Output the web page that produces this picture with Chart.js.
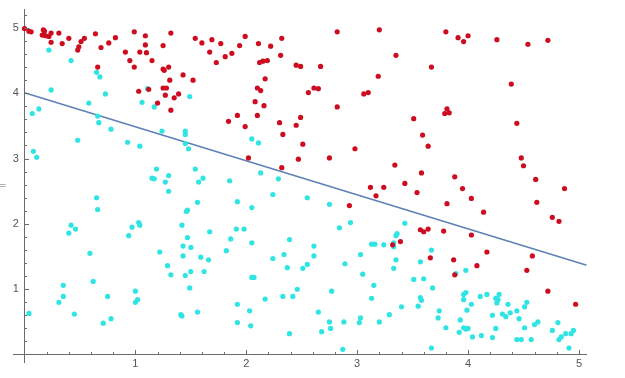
<!DOCTYPE html>
<html>
<head>
<meta charset="utf-8">
<script src="https://cdn.jsdelivr.net/npm/chart.js@4.4.1/dist/chart.umd.min.js"></script>
<style>
    html, body { margin: 0; padding: 0; background: #fff; }
    #wrap { width: 625px; height: 378px; }
</style>
</head>
<body>
<div id="wrap"><canvas id="scatterChart" width="625" height="378"></canvas></div>
<script>
// Red points (above the line)
const redX = [0.00, 0.04, 0.06, 0.17, 0.18, 0.16, 0.19, 0.22, 0.24, 0.24, 0.31, 0.34, 0.40, 0.48, 0.49, 0.51, 0.54, 0.64, 0.66, 0.69,
    0.76, 0.82, 0.91, 0.95, 0.99, 0.99, 1.04, 1.03, 1.09, 1.09, 1.10, 1.12, 1.15, 1.20, 1.25, 1.25, 1.26, 1.30, 1.31, 1.25,
    1.28, 1.27, 1.32, 1.32, 1.35, 1.39, 1.43, 1.52, 1.54, 1.60, 1.67, 1.69, 1.77, 1.73, 1.81, 1.87, 1.94, 1.99, 2.11, 2.22,
    2.32, 2.31, 2.12, 2.15, 2.19, 2.17, 2.10, 2.13, 2.08, 2.16, 1.92, 1.84, 1.99, 2.10, 2.30, 2.49, 2.45, 2.33, 2.51, 2.45,
    2.49, 2.67, 2.56, 2.61, 2.65, 2.82, 2.82, 3.20, 3.35, 3.19, 3.06, 3.10, 2.98, 2.75, 2.47, 2.02, 2.32, 3.34, 3.12, 3.24,
    3.43, 3.80, 3.91, 3.96, 4.00, 4.26, 4.54, 4.72, 3.67, 4.39, 3.81, 3.79, 3.83, 3.51, 4.44, 3.59, 3.64, 4.48, 4.50, 3.58,
    3.88, 4.61, 3.54, 3.95, 4.03, 4.87, 3.81, 4.14, 4.62, 4.76, 4.82, 3.57, 3.60, 3.64, 3.78, 4.03, 3.39, 3.32, 4.17, 3.66,
    3.87, 4.08, 4.58, 4.53, 3.88, 4.72, 4.97, 3.17, 2.93];
const redY = [4.99, 4.95, 4.94, 4.97, 4.95, 4.89, 4.88, 4.87, 4.92, 4.78, 4.92, 4.76, 4.84, 4.66, 4.71, 4.79, 4.84, 4.91, 4.40, 4.70,
    4.77, 4.85, 4.63, 4.50, 4.94, 4.40, 4.63, 4.03, 4.88, 4.74, 4.62, 4.06, 4.50, 3.85, 4.73, 4.37, 4.35, 4.40, 4.20, 4.08,
    4.08, 3.97, 4.92, 3.74, 3.93, 3.99, 4.28, 4.20, 4.84, 4.77, 4.63, 4.82, 4.76, 4.47, 4.56, 4.61, 4.73, 4.87, 4.76, 4.72,
    4.84, 4.58, 4.47, 4.49, 4.50, 4.22, 4.08, 4.04, 3.87, 3.81, 3.66, 3.57, 3.49, 3.66, 3.55, 3.63, 3.51, 3.37, 3.22, 4.43,
    4.41, 4.41, 4.01, 4.08, 4.07, 4.94, 3.79, 4.97, 4.58, 4.26, 3.99, 4.01, 3.15, 3.01, 2.99, 3.01, 2.86, 2.90, 2.56, 2.56,
    2.62, 4.94, 4.85, 4.79, 4.88, 4.82, 4.75, 4.81, 4.40, 4.14, 3.76, 3.69, 3.70, 3.61, 3.54, 3.36, 3.19, 3.01, 2.89, 2.78,
    2.72, 2.68, 2.48, 2.54, 2.39, 2.54, 2.31, 2.18, 2.33, 2.10, 2.04, 1.91, 1.88, 1.92, 1.89, 1.83, 1.73, 1.68, 1.57, 1.48,
    1.45, 1.36, 1.51, 1.29, 1.22, 0.97, 0.77, 2.43, 2.28];

// Cyan points (below the line)
const cyanX = [0.22, 0.42, 0.24, 0.07, 0.13, 0.08, 0.11, 0.48, 0.58, 0.65, 0.68, 0.73, 0.66, 0.67, 0.78, 0.93, 1.04, 1.06, 1.17, 1.24,
    1.49, 1.45, 1.45, 1.45, 1.48, 1.54, 1.57, 1.61, 1.19, 1.15, 1.17, 1.27, 1.30, 1.30, 2.05, 2.11, 2.13, 2.29, 1.85, 0.04,
    0.31, 0.35, 0.35, 0.45, 0.40, 0.42, 0.46, 0.59, 0.62, 0.65, 0.66, 0.75, 0.71, 0.78, 0.94, 0.97, 1.03, 1.04, 1.00, 1.02,
    1.00, 1.22, 1.29, 1.32, 1.56, 1.46, 1.47, 1.42, 1.47, 1.43, 1.50, 1.43, 1.59, 1.67, 1.66, 1.45, 1.50, 1.62, 1.49, 1.41,
    1.42, 1.56, 2.24, 1.92, 2.05, 2.55, 2.75, 2.94, 2.84, 1.91, 1.98, 1.86, 2.05, 1.82, 2.39, 2.34, 2.24, 2.37, 2.61, 2.61,
    2.55, 2.51, 2.05, 2.07, 2.46, 2.33, 2.42, 2.17, 1.92, 2.03, 1.92, 2.04, 2.39, 2.77, 2.65, 2.75, 2.76, 2.68, 2.88, 2.87,
    2.89, 3.03, 3.05, 3.15, 3.13, 3.03, 3.02, 3.20, 3.29, 3.40, 3.13, 3.16, 3.24, 3.33, 3.33, 3.35, 3.36, 3.35, 3.33, 3.43,
    3.57, 3.67, 3.51, 3.60, 3.68, 3.57, 3.58, 3.55, 3.74, 3.73, 3.80, 3.67, 3.89, 3.98, 3.96, 3.98, 3.96, 4.03, 3.99, 3.93,
    3.92, 3.96, 3.98, 4.00, 4.04, 4.11, 4.17, 4.12, 4.22, 4.22, 4.25, 4.25, 4.27, 4.28, 4.26, 4.31, 4.34, 4.36, 4.38, 4.44,
    4.46, 4.44, 4.48, 4.51, 4.53, 4.51, 4.57, 4.60, 4.63, 4.76, 4.81, 4.82, 4.84, 4.88, 4.93, 4.95, 4.91, 1.11];
const cyanY = [4.66, 4.50, 4.05, 3.69, 3.76, 3.11, 3.02, 3.28, 3.85, 4.32, 4.25, 3.99, 3.65, 3.55, 3.45, 3.25, 3.19, 3.86, 3.79, 3.42,
    3.95, 3.42, 3.37, 3.23, 3.15, 2.84, 2.64, 2.70, 2.84, 2.70, 2.69, 2.64, 2.74, 2.50, 3.30, 3.24, 2.78, 2.69, 2.66, 0.63,
    0.80, 1.06, 0.89, 0.62, 1.86, 1.98, 1.92, 1.55, 1.12, 2.40, 2.22, 0.89, 0.48, 0.55, 1.82, 1.95, 2.02, 1.98, 0.97, 0.84,
    0.80, 1.57, 1.36, 1.22, 2.33, 2.19, 2.21, 1.98, 1.79, 1.66, 1.64, 1.51, 1.49, 1.88, 1.45, 1.21, 1.27, 1.27, 1.02, 0.61,
    0.59, 0.65, 2.45, 2.34, 2.25, 2.40, 2.30, 2.02, 1.94, 1.92, 1.92, 1.77, 1.71, 1.59, 1.76, 1.53, 1.47, 1.33, 1.66, 1.51,
    1.38, 1.32, 1.18, 1.18, 1.00, 0.89, 0.89, 0.85, 0.77, 0.67, 0.49, 0.44, 0.32, 0.97, 0.65, 0.50, 0.40, 0.35, 0.50, 0.08,
    1.39, 1.53, 1.23, 1.06, 0.86, 0.56, 0.49, 0.50, 0.61, 0.73, 1.69, 1.69, 1.68, 1.71, 1.65, 1.82, 1.85, 1.45, 1.32, 2.01,
    1.42, 1.60, 1.15, 1.16, 1.02, 0.87, 0.83, 0.74, 0.67, 0.56, 0.41, 0.10, 1.24, 1.29, 0.92, 0.95, 0.84, 0.77, 0.68, 0.53,
    0.34, 0.41, 0.39, 0.40, 0.27, 0.89, 0.92, 0.29, 0.60, 0.26, 0.40, 0.86, 0.84, 0.92, 0.79, 0.62, 0.58, 0.77, 0.64, 0.67,
    0.55, 0.23, 0.23, 0.73, 0.80, 0.41, 0.23, 0.46, 0.50, 0.37, 0.49, 0.23, 0.27, 0.32, 0.32, 0.37, 0.10, 4.07];

// Separating line (two end points)
const lineX = [0, 5.07];
const lineY = [4.006, 1.367];

// Tick labels
const xTickValues = [1, 2, 3, 4, 5];
const yTickValues = [1, 2, 3, 4, 5];

const axisGray = '#6b6b6b';

function toPoints(xs, ys) {
    return xs.map((x, i) => ({ x: x, y: ys[i] }));
}

// Mathematica style ticks: pointing inwards, minor every 0.2
const inwardTicks = {
    id: 'inwardTicks',
    afterDraw(chart) {
        const ctx = chart.ctx;
        const xs = chart.scales.x;
        const ys = chart.scales.y;
        const x0 = xs.getPixelForValue(0);
        const y0 = ys.getPixelForValue(0);
        ctx.save();
        ctx.strokeStyle = axisGray;
        ctx.lineWidth = 1;
        ctx.beginPath();
        for (let i = 1; i <= 25; i++) {
            const px = Math.round(xs.getPixelForValue(i * 0.2)) + 0.5;
            const len = i % 5 === 0 ? 4.5 : 2.5;
            ctx.moveTo(px, y0);
            ctx.lineTo(px, y0 - len);
        }
        for (let i = 1; i <= 26; i++) {
            const py = Math.round(ys.getPixelForValue(i * 0.2)) + 0.5;
            const len = i % 5 === 0 ? 4.5 : 2.5;
            ctx.moveTo(x0, py);
            ctx.lineTo(x0 + len, py);
        }
        ctx.stroke();
        // stray axis label glyph at the left edge
        ctx.fillStyle = axisGray;
        ctx.font = '9px "DejaVu Sans"';
        ctx.textAlign = 'left';
        ctx.textBaseline = 'middle';
        ctx.fillText('=', -1, 186);
        ctx.restore();
    }
};

document.addEventListener("DOMContentLoaded", function () {
    const ctx = document.getElementById('scatterChart').getContext('2d');
    new Chart(ctx, {
        type: 'scatter',
        data: {
            datasets: [{
                label: 'above',
                data: toPoints(redX, redY),
                backgroundColor: 'rgb(206, 12, 32)',
                borderWidth: 0,
                pointRadius: 2.6,
                clip: false
            }, {
                label: 'below',
                data: toPoints(cyanX, cyanY),
                backgroundColor: 'rgb(48, 228, 228)',
                borderWidth: 0,
                pointRadius: 2.6,
                clip: false
            }, {
                type: 'line',
                label: 'boundary',
                data: toPoints(lineX, lineY),
                borderColor: '#5e81b5',
                borderWidth: 1.6,
                pointRadius: 0,
                fill: false
            }]
        },
        options: {
            responsive: false,
            animation: false,
            layout: {
                padding: { left: 13.4, right: 38.3, top: 5, bottom: 15.6 }
            },
            plugins: {
                legend: { display: false },
                tooltip: { enabled: false }
            },
            scales: {
                x: {
                    type: 'linear',
                    min: -0.1,
                    max: 5.07,
                    position: { y: 0 },
                    grid: { display: false, drawTicks: false },
                    border: { display: true, color: axisGray, width: 1 },
                    afterBuildTicks: scale => {
                        scale.ticks = xTickValues.map(v => ({ value: v }));
                    },
                    ticks: {
                        color: '#555',
                        font: { family: 'Liberation Sans', size: 11 },
                        padding: 3,
                        maxRotation: 0
                    }
                },
                y: {
                    type: 'linear',
                    min: -0.12,
                    max: 5.28,
                    position: { x: 0 },
                    grid: { display: false, drawTicks: false },
                    border: { display: true, color: axisGray, width: 1 },
                    afterBuildTicks: scale => {
                        scale.ticks = yTickValues.map(v => ({ value: v }));
                    },
                    ticks: {
                        color: '#555',
                        font: { family: 'Liberation Sans', size: 11 },
                        // value-positioned axes ignore padding, so pad the label text
                        callback: v => String(v) + '\u2002'
                    }
                }
            }
        },
        plugins: [inwardTicks]
    });
});
</script>
</body>
</html>
